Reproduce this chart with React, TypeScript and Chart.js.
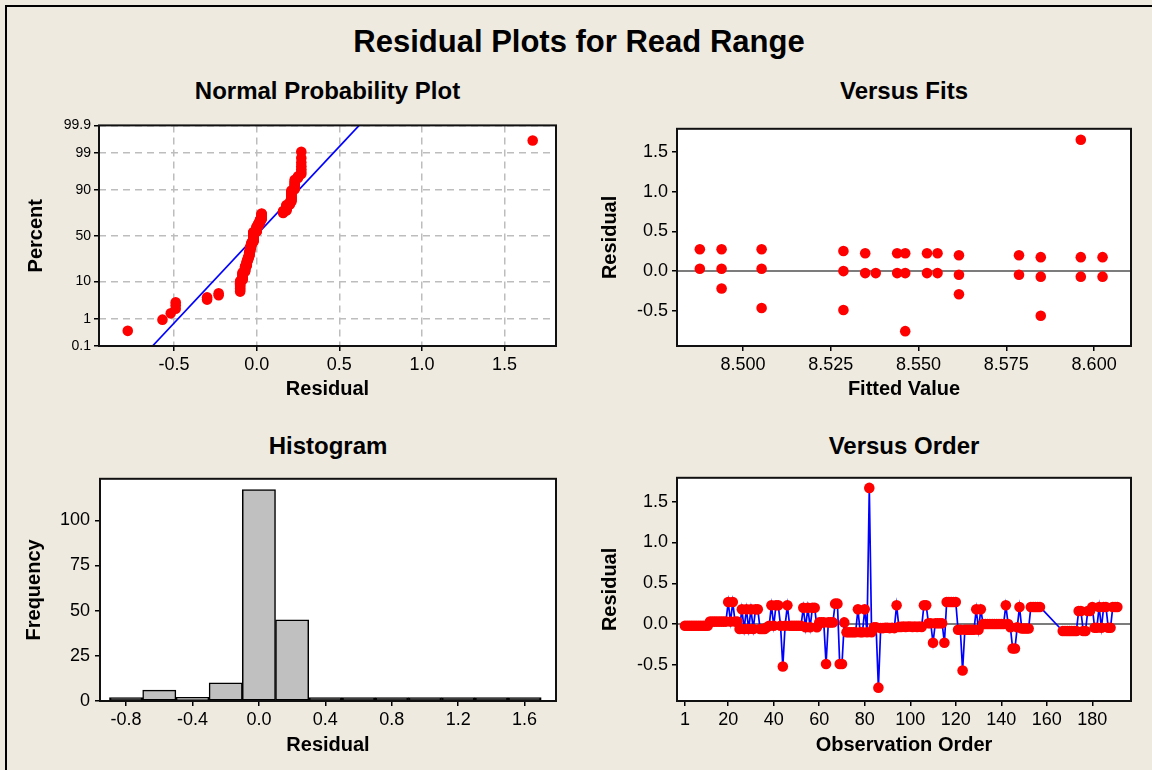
import React, { useEffect, useRef } from "react";
import { Chart, registerables } from "chart.js";

Chart.register(...registerables);

const FONT = '"Liberation Sans", Arial, Helvetica, sans-serif';
const BG = "#EEEAE0";
const RED = "#FF0000";
const BLUE = "#0000FF";
const PR = 5.3;
Chart.defaults.font.family = FONT;

// ---------------- DATA ----------------
// Residuals in observation order (null = missing observation)
const orderResiduals: (number | null)[] = [
  // 1-10
  -0.02, -0.02, -0.02, -0.02, -0.02, -0.02, -0.02, -0.02, -0.02, -0.02,
  // 11-20
  -0.02, 0.03, 0.03, 0.03, 0.03, 0.03, 0.03, 0.03, 0.03, 0.27,
  // 21-30
  0.03, 0.27, 0.03, 0.03, -0.06, 0.18, -0.06, 0.18, -0.06, 0.18,
  // 31-40
  -0.06, 0.18, 0.18, -0.06, -0.06, -0.06, -0.04, -0.02, 0.23, -0.02,
  // 41-50
  0.23, 0.23, -0.02, -0.52, -0.02, 0.23, -0.02, -0.02, -0.02, -0.02,
  // 51-60
  -0.02, -0.02, 0.2, -0.04, 0.2, -0.04, 0.2, 0.2, -0.04, 0.02,
  // 61-70
  0.02, 0.02, -0.49, 0.02, 0.02, 0.02, 0.25, 0.25, -0.49, -0.49,
  // 71-80
  0.02, -0.1, -0.1, -0.1, -0.1, -0.1, 0.18, -0.1, -0.1, 0.18,
  // 81-90
  -0.1, 1.67, -0.1, -0.04, -0.04, -0.78, -0.05, -0.05, -0.045, -0.045,
  // 91-100
  -0.05, -0.045, -0.05, 0.23, -0.035, -0.035, -0.03, -0.035, -0.03, -0.03,
  // 101-110
  -0.035, -0.03, -0.035, -0.03, -0.035, 0.23, 0.23, 0.01, 0.01, -0.23,
  // 111-120
  0.01, 0.01, 0.01, 0.01, -0.23, 0.27, 0.27, 0.27, 0.27, 0.27,
  // 121-130
  -0.07, -0.07, -0.57, -0.07, -0.07, -0.07, -0.07, -0.07, 0.18, -0.07,
  // 131-140
  0.18, 0.0, 0.0, 0.0, 0.0, 0.0, 0.0, 0.0, 0.0, 0.0,
  // 141-150
  0.0, 0.23, 0.0, -0.04, -0.3, -0.3, -0.04, 0.21, -0.055, -0.055,
  // 151-160
  -0.055, -0.055, 0.21, 0.21, 0.21, 0.21, 0.21, null, null, null,
  // 161-170
  null, null, null, null, null, null, -0.085, -0.085, -0.085, -0.085,
  // 171-180
  -0.085, -0.085, -0.085, 0.16, 0.16, -0.085, -0.085, 0.16, 0.16, 0.21,
  // 181-190
  -0.045, -0.045, 0.21, -0.045, 0.21, 0.21, -0.045, -0.045, 0.21, 0.21,
  // 191
  0.21,
];

// Versus Fits (fitted value, residual)
const fittedValues = [
  8.4877, 8.4877, 8.4939, 8.4939, 8.4939, 8.5053, 8.5053, 8.5053,
  8.5286, 8.5286, 8.5286, 8.5348, 8.5348, 8.5378, 8.5439, 8.5439,
  8.5462, 8.5462, 8.5462, 8.5524, 8.5524, 8.5554, 8.5554, 8.5615,
  8.5615, 8.5615, 8.5786, 8.5786, 8.5848, 8.5848, 8.5848, 8.5962,
  8.5962, 8.5962, 8.6024, 8.6024,
];
const fittedResiduals = [
  0.275, 0.03, 0.275, 0.03, -0.22, 0.275, 0.03, -0.465,
  0.254, 0.0, -0.49, 0.225, -0.025, -0.025, 0.225, -0.025,
  0.225, -0.025, -0.757, 0.225, -0.025, 0.225, -0.025, 0.2,
  -0.046, -0.292, 0.2, -0.046, 0.176, -0.07, -0.563, 1.656,
  0.176, -0.07, 0.176, -0.07,
];

// Histogram
const histCenters = [-0.8, -0.6, -0.4, -0.2, 0.0, 0.2, 0.4, 0.6, 0.8, 1.0, 1.2, 1.4, 1.6];
const histCounts = [1, 6, 2, 10, 117, 45, 0, 0, 0, 0, 0, 0, 1];

// Normal probability plot
const probPercentTicks = [0.1, 1, 10, 50, 90, 99, 99.9];
const probTickLabels = ["0.1", "1", "10", "50", "90", "99", "99.9"];
const fitLinePercents = [0.1, 99.9];
const fitLineResiduals = [-0.63, 0.62];

// Axis ticks / ranges
const residualXTicks = [-0.5, 0.0, 0.5, 1.0, 1.5];
const residualXRange = [-0.954, 1.811];
const residualYTicks = [-0.5, 0.0, 0.5, 1.0, 1.5];
const residualYRange = [-0.944, 1.794];
const fittedTicks = [8.5, 8.525, 8.55, 8.575, 8.6];
const fittedRange = [8.4812, 8.6105];
const histTicks = [-0.8, -0.4, 0.0, 0.4, 0.8, 1.2, 1.6];
const histXRange = [-0.957, 1.789];
const freqTicks = [0, 25, 50, 75, 100];
const freqRange = [0, 123];
const orderTicks = [1, 20, 40, 60, 80, 100, 120, 140, 160, 180];
const orderRange = [-2.5, 197];

// ---------------- HELPERS ----------------
function probit(p: number): number {
  const a = [-3.969683028665376e1, 2.209460984245205e2, -2.759285104469687e2, 1.38357751867269e2, -3.066479806614716e1, 2.506628277459239];
  const b = [-5.447609879822406e1, 1.615858368580409e2, -1.556989798598866e2, 6.680131188771972e1, -1.328068155288572e1];
  const c = [-7.784894002430293e-3, -3.223964580411365e-1, -2.400758277161838, -2.549732539343734, 4.374664141464968, 2.938163982698783];
  const d = [7.784695709041462e-3, 3.224671290700398e-1, 2.445134137142996, 3.754408661907416];
  const pl = 0.02425;
  if (p < pl) {
    const q = Math.sqrt(-2 * Math.log(p));
    return (((((c[0] * q + c[1]) * q + c[2]) * q + c[3]) * q + c[4]) * q + c[5]) / ((((d[0] * q + d[1]) * q + d[2]) * q + d[3]) * q + 1);
  }
  if (p <= 1 - pl) {
    const q = p - 0.5;
    const r = q * q;
    return ((((((a[0] * r + a[1]) * r + a[2]) * r + a[3]) * r + a[4]) * r + a[5]) * q) / (((((b[0] * r + b[1]) * r + b[2]) * r + b[3]) * r + b[4]) * r + 1);
  }
  const q = Math.sqrt(-2 * Math.log(1 - p));
  return -(((((c[0] * q + c[1]) * q + c[2]) * q + c[3]) * q + c[4]) * q + c[5]) / ((((d[0] * q + d[1]) * q + d[2]) * q + d[3]) * q + 1);
}

type Box = { l: number; t: number; w: number; h: number };
const ML = 110, MT = 10, MR = 10, MB = 60;

const BOX_NPP: Box = { l: 99, t: 124, w: 457, h: 222 };
const BOX_FIT: Box = { l: 677, t: 124, w: 454, h: 222 };
const BOX_HIST: Box = { l: 100, t: 473, w: 456, h: 228 };
const BOX_ORD: Box = { l: 677, t: 473, w: 454, h: 228 };

const framePlugin = {
  id: "boxFrame",
  beforeDraw(chart: any) {
    const { ctx, chartArea: a } = chart;
    ctx.save();
    ctx.fillStyle = "#FFFFFF";
    ctx.fillRect(a.left, a.top, a.right - a.left, a.bottom - a.top);
    ctx.restore();
  },
  afterDraw(chart: any) {
    const { ctx, chartArea: a } = chart;
    ctx.save();
    ctx.strokeStyle = "#111";
    ctx.lineWidth = 2;
    ctx.strokeRect(a.left, a.top, a.right - a.left, a.bottom - a.top);
    ctx.restore();
  },
};

function axis(o: {
  range: number[];
  ticks: number[];
  horizontal: boolean;
  title: string;
  titlePad: number;
  fmt: (v: number, i: number) => string;
  grid?: boolean;
  fontSize?: number;
  labelPad?: number;
}) {
  return {
    type: "linear",
    position: o.horizontal ? "bottom" : "left",
    min: o.range[0],
    max: o.range[1],
    offset: false,
    afterBuildTicks: (s: any) => {
      s.ticks = o.ticks.map((v) => ({ value: v }));
    },
    afterFit: (s: any) => {
      if (o.horizontal) s.height = MB;
      else s.width = ML;
    },
    grid: {
      display: true,
      offset: false,
      drawOnChartArea: !!o.grid,
      color: "#BDBDBD",
      lineWidth: 1.5,
      drawTicks: true,
      tickLength: 5,
      tickColor: "#000",
      tickWidth: 1.5,
      tickBorderDash: [],
    },
    border: { display: false, dash: o.grid ? [7, 5] : [] },
    ticks: {
      autoSkip: false,
      maxRotation: 0,
      minRotation: 0,
      padding: o.labelPad ?? 3,
      color: "#000",
      font: { family: FONT, size: o.fontSize ?? 18 },
      callback: (v: any, i: number) => o.fmt(Number(v), i),
    },
    title: {
      display: true,
      text: o.title,
      color: "#000",
      font: { family: FONT, size: 20, weight: "bold" },
      padding: o.horizontal ? { top: 0, bottom: o.titlePad } : { top: o.titlePad, bottom: 0 },
    },
  };
}

const baseOptions = {
  responsive: false,
  maintainAspectRatio: false,
  animation: false,
  events: [],
  layout: { padding: { left: 0, top: MT, right: MR, bottom: 0 } },
  plugins: { legend: { display: false }, tooltip: { enabled: false }, title: { display: false } },
};

function nppConfig(): any {
  const observed = orderResiduals.filter((v): v is number => v !== null).slice().sort((a, b) => a - b);
  const n = observed.length;
  const pts = observed.map((r, i) => ({ x: r, y: probit((i + 1 - 0.3) / (n + 0.4)) }));
  const line = fitLineResiduals.map((r, i) => ({ x: r, y: probit(fitLinePercents[i] / 100) }));
  return {
    type: "scatter",
    data: {
      datasets: [
        { data: pts, pointRadius: PR, pointBackgroundColor: RED, pointBorderColor: RED, pointBorderWidth: 0 },
        { data: line, showLine: true, pointRadius: 0, borderColor: BLUE, borderWidth: 1.7 },
      ],
    },
    options: {
      ...baseOptions,
      scales: {
        x: axis({ range: residualXRange, ticks: residualXTicks, horizontal: true, title: "Residual", titlePad: 5, fmt: (v) => v.toFixed(1), grid: true }),
        y: axis({
          range: [probit(0.001), probit(0.999)],
          ticks: probPercentTicks.map((p) => probit(p / 100)),
          horizontal: false,
          title: "Percent",
          titlePad: 35,
          fmt: (_v, i) => probTickLabels[i],
          grid: true,
          fontSize: 14,
          labelPad: 3,
        }),
      },
    },
    plugins: [framePlugin],
  };
}

function fitsConfig(): any {
  const pts = fittedValues.map((f, i) => ({ x: f, y: fittedResiduals[i] }));
  return {
    type: "scatter",
    data: {
      datasets: [
        { data: pts, pointRadius: PR, pointBackgroundColor: RED, pointBorderColor: RED, pointBorderWidth: 0 },
        { data: [{ x: fittedRange[0], y: 0 }, { x: fittedRange[1], y: 0 }], showLine: true, pointRadius: 0, borderColor: "#505050", borderWidth: 1.5 },
      ],
    },
    options: {
      ...baseOptions,
      scales: {
        x: axis({ range: fittedRange, ticks: fittedTicks, horizontal: true, title: "Fitted Value", titlePad: 5, fmt: (v) => v.toFixed(3) }),
        y: axis({ range: residualYRange, ticks: residualYTicks, horizontal: false, title: "Residual", titlePad: 31, fmt: (v) => v.toFixed(1), labelPad: 4 }),
      },
    },
    plugins: [framePlugin],
  };
}

function histConfig(): any {
  return {
    type: "bar",
    data: {
      datasets: [
        {
          data: histCenters.map((c, i) => ({ x: c, y: histCounts[i] })),
          backgroundColor: (ctx: any) => {
            const v = ctx.raw ? ctx.raw.y : 0;
            return v <= 1 ? "#000000" : "#C0C0C0";
          },
          borderColor: "#000",
          borderWidth: 1.5,
          borderSkipped: false,
          barPercentage: 1,
          categoryPercentage: 1,
          minBarLength: 3.5,
        },
      ],
    },
    options: {
      ...baseOptions,
      scales: {
        x: axis({ range: histXRange, ticks: histTicks, horizontal: true, title: "Residual", titlePad: 3.5, fmt: (v) => v.toFixed(1) }),
        y: axis({ range: freqRange, ticks: freqTicks, horizontal: false, title: "Frequency", titlePad: 32, fmt: (v) => String(Math.round(v)), labelPad: 5 }),
      },
    },
    plugins: [framePlugin],
  };
}

function orderConfig(): any {
  const pts = orderResiduals.map((r, i) => ({ x: i + 1, y: r }));
  return {
    type: "line",
    data: {
      datasets: [
        {
          data: pts,
          spanGaps: true,
          borderColor: BLUE,
          borderWidth: 1.7,
          tension: 0,
          pointRadius: PR,
          pointBackgroundColor: RED,
          pointBorderColor: RED,
          pointBorderWidth: 0,
        },
        { data: [{ x: orderRange[0], y: 0 }, { x: orderRange[1], y: 0 }], pointRadius: 0, borderColor: "#505050", borderWidth: 1.5 },
      ],
    },
    options: {
      ...baseOptions,
      scales: {
        x: axis({ range: orderRange, ticks: orderTicks, horizontal: true, title: "Observation Order", titlePad: 3.5, fmt: (v) => String(Math.round(v)) }),
        y: axis({ range: residualYRange, ticks: residualYTicks, horizontal: false, title: "Residual", titlePad: 31, fmt: (v) => v.toFixed(1), labelPad: 4 }),
      },
    },
    plugins: [framePlugin],
  };
}

function canvasProps(b: Box) {
  const width = b.w + ML + MR;
  const height = b.h + MT + MB;
  return {
    width,
    height,
    style: { position: "absolute" as const, left: b.l - ML, top: b.t - MT, width, height },
  };
}

function Label({ cx, cy, size, text }: { cx: number; cy: number; size: number; text: string }) {
  return (
    <div
      style={{
        position: "absolute",
        left: cx - 500,
        width: 1000,
        top: cy - size * 0.49,
        textAlign: "center",
        fontSize: size,
        lineHeight: `${size}px`,
        fontWeight: "bold",
        whiteSpace: "nowrap",
        color: "#000",
        fontFamily: FONT,
      }}
    >
      {text}
    </div>
  );
}

export default function App() {
  const nppRef = useRef<HTMLCanvasElement>(null);
  const fitRef = useRef<HTMLCanvasElement>(null);
  const histRef = useRef<HTMLCanvasElement>(null);
  const ordRef = useRef<HTMLCanvasElement>(null);

  useEffect(() => {
    const charts = [
      new Chart(nppRef.current!, nppConfig()),
      new Chart(fitRef.current!, fitsConfig()),
      new Chart(histRef.current!, histConfig()),
      new Chart(ordRef.current!, orderConfig()),
    ];
    return () => charts.forEach((c) => c.destroy());
  }, []);

  const cx = (b: Box) => b.l + b.w / 2;

  return (
    <div style={{ position: "fixed", left: 0, top: 0, width: 1152, height: 770, background: BG, overflow: "hidden" }}>
      <div style={{ position: "absolute", left: 5, top: 5, width: 1300, height: 900, border: "2px solid #000", boxSizing: "border-box" }} />
      <Label cx={579} cy={41} size={31} text="Residual Plots for Read Range" />
      <Label cx={cx(BOX_NPP)} cy={90.5} size={24} text="Normal Probability Plot" />
      <Label cx={cx(BOX_FIT)} cy={90.5} size={24} text="Versus Fits" />
      <Label cx={cx(BOX_HIST)} cy={446} size={24} text="Histogram" />
      <Label cx={cx(BOX_ORD)} cy={446} size={24} text="Versus Order" />
      <canvas ref={nppRef} {...canvasProps(BOX_NPP)} />
      <canvas ref={fitRef} {...canvasProps(BOX_FIT)} />
      <canvas ref={histRef} {...canvasProps(BOX_HIST)} />
      <canvas ref={ordRef} {...canvasProps(BOX_ORD)} />
    </div>
  );
}
